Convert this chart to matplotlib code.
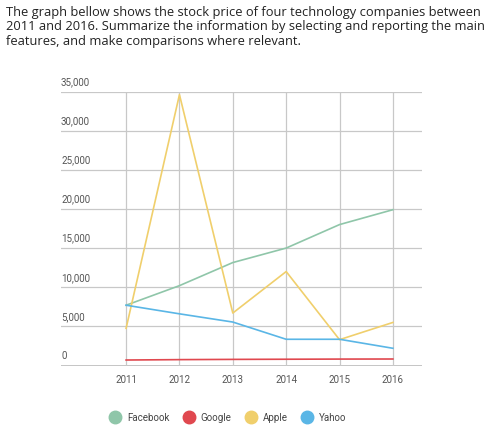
import matplotlib.pyplot as plt
from matplotlib.lines import Line2D
import matplotlib.transforms as mtransforms

years = [2011, 2012, 2013, 2014, 2015, 2016]
facebook = [7700, 10200, 13150, 15000, 18000, 19900]
google = [700, 750, 780, 800, 820, 830]
apple = [4750, 34600, 6700, 12000, 3300, 5500]
yahoo = [7700, 6600, 5550, 3350, 3350, 2200]

series_names = ["Facebook", "Google", "Apple", "Yahoo"]
colors = ["#8fc6a9", "#e0484f", "#f0cf6c", "#5ab6e6"]

y_ticks = [0, 5000, 10000, 15000, 20000, 25000, 30000, 35000]

title = ("The graph bellow shows the stock price of four technology companies between\n"
         "2011 and 2016. Summarize the information by selecting and reporting the main\n"
         "features, and make comparisons where relevant.")

plt.rcParams["font.family"] = ["Roboto", "DejaVu Sans"]

fig = plt.figure(figsize=(5, 4.35), dpi=100)
fig.text(0.012, 0.987, title, ha="left", va="top", fontsize=9.25,
         family=["Open Sans", "DejaVu Sans"], color="#222222", linespacing=1.15)

ax = fig.add_axes([61 / 500, 1 - 366.5 / 435, (421.7 - 61) / 500, (366.5 - 92.5) / 435])

for vals, name, c in zip([facebook, google, apple, yahoo], series_names, colors):
    ax.plot(years, vals, color=c, lw=1.2, label=name, zorder=3)

ax.set_xlim(2009.78, 2016.54)
ax.set_ylim(0, 35000)
ax.set_xticks(years)
ax.set_xticklabels([str(y) for y in years], fontsize=7, color="#555555")
ax.tick_params(axis="x", length=0, pad=6)
ax.set_yticks(y_ticks)
ax.set_yticklabels([])
ax.tick_params(axis="y", length=0)
ax.grid(True, color="#c8c8c8", lw=0.9, zorder=0)
for s in ax.spines.values():
    s.set_visible(False)
ax.axhline(0, color="#bbbbbb", lw=1.2, zorder=1)

trans = mtransforms.blended_transform_factory(ax.transAxes, ax.transData)
for t in y_ticks:
    ax.text(0.0, t + 700, f"{t:,}", transform=trans, ha="left", va="bottom",
            fontsize=7, color="#555555")

handles = [Line2D([], [], marker="o", ls="", markersize=9, markerfacecolor=c,
                  markeredgecolor=c) for c in colors]
fig.legend(handles, series_names, loc="center", ncol=4, frameon=False,
           bbox_to_anchor=(226 / 500, 1 - 418 / 435), fontsize=7,
           handletextpad=0.2, columnspacing=1.0, labelcolor="#444444")

fig.savefig("out.png", dpi=100)
